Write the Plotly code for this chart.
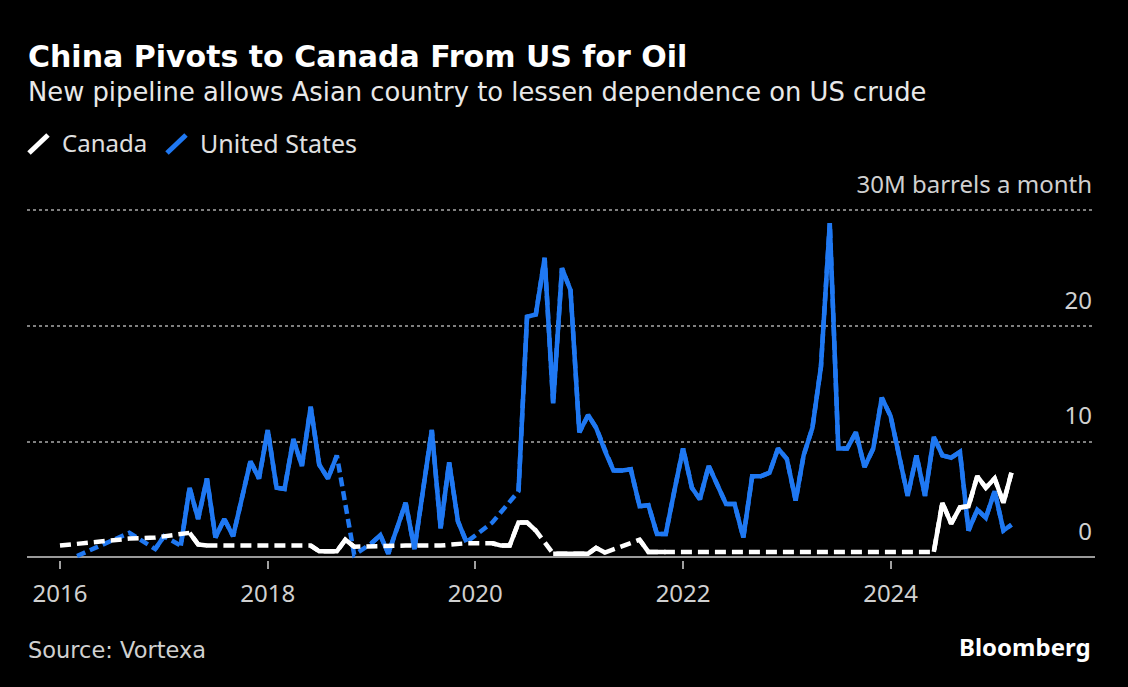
import plotly.graph_objects as go
import pandas as pd

# ---------------- data ----------------
months = pd.date_range("2016-01-01", "2025-03-01", freq="MS").strftime("%Y-%m-%d").tolist()

N = None
us_values = [
    N, N, 0.1, N, N, N, N, N, 2.1, N, N, 0.7,            # 2016
    1.8, N, 1.0, 6.0, 3.3, 6.8, 1.7, 3.3, 1.8, 5.0, 8.3, 6.8,  # 2017
    11.0, 6.0, 5.9, 10.2, 7.9, 13.0, 8.0, 6.8, 8.8, N, 0.2, N,  # 2018
    1.2, 1.9, 0.3, 2.5, 4.7, 0.7, 5.8, 11.0, 2.5, 8.2, 3.1, 1.3,  # 2019
    N, N, 3.0, N, N, 5.7, 20.8, 21.0, 25.9, 13.3, 25.0, 23.1,  # 2020
    10.8, 12.3, 11.2, 9.2, 7.5, 7.5, 7.6, 4.4, 4.5, 2.0, 2.0, 5.7,  # 2021
    9.4, 6.0, 5.0, 7.9, 6.3, 4.6, 4.6, 1.7, 7.0, 7.0, 7.3, 9.4,  # 2022
    8.5, 4.9, 8.8, 11.2, 16.5, 28.9, 9.4, 9.4, 10.8, 7.8, 9.4, 13.8,  # 2023
    12.2, 8.6, 5.3, 8.8, 5.3, 10.4, 8.8, 8.6, 9.1, 2.3, 4.1, 3.4,  # 2024
    5.7, 2.3, 2.8,                                          # 2025
]

canada_values = [
    1.0, N, N, N, N, N, N, N, 1.6, N, N, 1.7,             # 2016
    N, N, N, 2.1, 1.1, 1.0, N, N, N, N, N, 1.0,           # 2017
    N, N, N, N, N, 1.0, 0.5, 0.5, 0.5, 1.5, 0.9, N,       # 2018
    N, N, N, N, 1.0, N, N, N, 1.0, N, N, 1.2,             # 2019
    N, N, 1.2, 1.0, 1.0, 3.0, 3.0, 2.3, N, 0.3, 0.3, 0.3,  # 2020
    0.3, 0.3, 0.8, 0.4, N, N, N, 1.5, 0.45, 0.45, 0.45, N,  # 2021
    N, N, N, N, 0.45, N, N, N, N, N, 0.45, N,             # 2022
    N, N, N, N, 0.45, N, N, N, N, N, 0.45, N,             # 2023
    N, N, N, N, N, 0.45, 4.7, 2.9, 4.3, 4.4, 7.0, 6.0,    # 2024
    6.8, 4.7, 7.3,                                        # 2025
]

x_tick_vals = ["2016-01-01", "2018-01-01", "2020-01-01", "2022-01-01", "2024-01-01"]
x_tick_text = ["2016", "2018", "2020", "2022", "2024"]
y_tick_vals = [0, 10, 20, 30]
y_tick_text = ["0", "10", "20", "30M barrels a month"]

series_names = ["Canada", "United States"]
title_text = "China Pivots to Canada From US for Oil"
subtitle_text = "New pipeline allows Asian country to lessen dependence on US crude"
source_text = "Source: Vortexa"
brand_text = "Bloomberg"

# ---------------- style ----------------
W, H = 1128, 687
ML, MR, MT, MB = 27, 33, 207, 127
PW, PH = W - ML - MR, H - MT - MB
FONT = "Noto Sans"
WIDE = "DejaVu Sans"
BLUE = "#1f78f2"
WHITE = "#ffffff"
LW = 4.5


def px_x(px):
    return (px - ML) / PW


def px_y(py):
    return (H - MB - py) / PH


fig = go.Figure()

for name, vals, col in [(series_names[1], us_values, BLUE), (series_names[0], canada_values, WHITE)]:
    dash = "9px,5px" if col == BLUE else "11px,6px"
    fig.add_trace(go.Scatter(x=months, y=vals, mode="lines", connectgaps=True,
                             line=dict(color=col, width=LW, dash=dash),
                             showlegend=False, hoverinfo="skip"))
    fig.add_trace(go.Scatter(x=months, y=vals, mode="lines", connectgaps=False,
                             line=dict(color=col, width=LW),
                             name=name, showlegend=False))

annotations = [
    dict(text=f"<b>{title_text}</b>", x=px_x(26), y=px_y(56), xanchor="left", yanchor="middle",
         font=dict(family=WIDE, size=30, color="#ffffff")),
    dict(text=subtitle_text, x=px_x(26), y=px_y(92), xanchor="left", yanchor="middle",
         font=dict(family=WIDE, size=25.8, color="#e8e8e8")),
    dict(text=series_names[0], x=px_x(60), y=px_y(143), xanchor="left", yanchor="middle",
         font=dict(family=FONT, size=24, color="#e0e0e0")),
    dict(text=series_names[1], x=px_x(198), y=px_y(143), xanchor="left", yanchor="middle",
         font=dict(family=FONT, size=25, color="#e0e0e0")),
    dict(text=source_text, x=px_x(26), y=px_y(650), xanchor="left", yanchor="middle",
         font=dict(family=WIDE, size=22.5, color="#d0d0d0")),
    dict(text=f"<b>{brand_text}</b>", x=px_x(1093), y=px_y(646), xanchor="right", yanchor="middle",
         font=dict(family=FONT, size=24, color="#ffffff")),
]
for a in annotations:
    a.update(xref="paper", yref="paper", showarrow=False)

shapes = [
    dict(type="line", xref="paper", yref="paper", x0=px_x(29), y0=px_y(153), x1=px_x(48), y1=px_y(135),
         line=dict(color=WHITE, width=5)),
    dict(type="line", xref="paper", yref="paper", x0=px_x(167), y0=px_y(153), x1=px_x(186), y1=px_y(135),
         line=dict(color=BLUE, width=5)),
]

fig.update_layout(
    width=W, height=H,
    margin=dict(l=ML, r=MR, t=MT, b=MB),
    paper_bgcolor="#000000", plot_bgcolor="#000000",
    showlegend=False,
    annotations=annotations,
    shapes=shapes,
    font=dict(family=FONT, color="#d0d0d0"),
    xaxis=dict(
        type="date", range=["2015-09-07", "2025-12-20"],
        tickvals=x_tick_vals, ticktext=x_tick_text,
        showgrid=False, zeroline=False, showline=False,
        ticks="outside", ticklen=8, tickwidth=1.5, tickcolor="#a0a0a0",
        tickfont=dict(family=FONT, size=24, color="#d0d0d0"),
        ticklabelstandoff=4,
    ),
    yaxis=dict(
        range=[-0.25, 30.3], side="right",
        tickvals=y_tick_vals, ticktext=y_tick_text,
        ticklabelposition="inside top", ticklabeloverflow="allow",
        ticklabelshift=-9,
        showgrid=True, gridcolor="#808080", gridwidth=1.5, griddash="3px,3px",
        zeroline=True, zerolinecolor="#9a9a9a", zerolinewidth=2,
        showline=False, ticks="",
        tickfont=dict(family=FONT, size=24, color="#d0d0d0"),
    ),
)

fig.write_html("out.html", config={"displayModeBar": False},
               post_script="document.body.style.margin='0';document.body.style.background='#000';")
